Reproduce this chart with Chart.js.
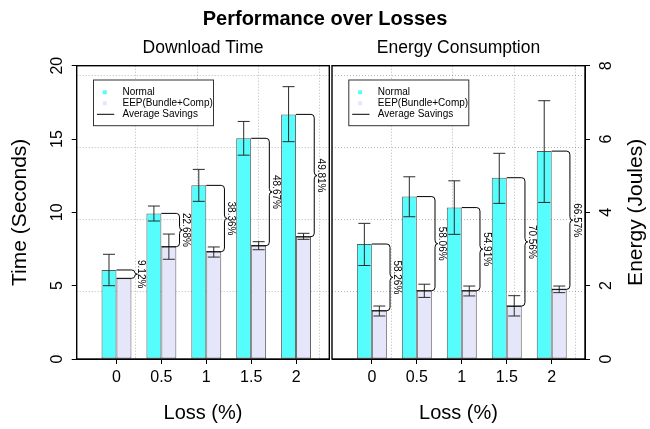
<!DOCTYPE html>
<html><head><meta charset="utf-8">
<script src="https://cdn.jsdelivr.net/npm/chart.js@4/dist/chart.umd.min.js"></script>
<style>
html,body{margin:0;padding:0;background:#fff;}
#wrap{position:relative;width:650px;height:429px;overflow:hidden;background:#fff;}
#title{position:absolute;left:0;top:7px;width:650px;text-align:center;line-height:20px;font:bold 20px 'Liberation Sans',Arial,sans-serif;color:#000;}
canvas{position:absolute;top:0;}
</style></head><body>
<div id="wrap">
<canvas id="c1" width="406" height="429" style="left:0px;width:406px;height:429px"></canvas>
<canvas id="c2" width="383" height="429" style="left:267px;width:383px;height:429px"></canvas>
<div id="title">Performance over Losses</div>
</div>
<script>
// ---- data ----
const LOSS = [0, 0.5, 1, 1.5, 2];
const LOSS_TICKS = [0, 0.5, 1, 1.5, 2];
const SERIES = ['Normal', 'EEP(Bundle+Comp)'];
const SAVINGS_LABEL = 'Average Savings';

const TIME_NORMAL    = [6.07, 9.93, 11.84, 15.05, 16.68];
const TIME_NORMAL_LO = [5.0, 9.41, 10.75, 13.9, 14.82];
const TIME_NORMAL_HI = [7.14, 10.43, 12.93, 16.2, 18.57];
const TIME_EEP       = [5.5, 7.66, 7.32, 7.73, 8.34];
const TIME_EEP_LO    = [null, 6.8, 6.95, 7.45, 8.16];
const TIME_EEP_HI    = [null, 8.52, 7.64, 8.0, 8.57];
const TIME_SAVINGS   = ['9.12', '22.68', '38.36', '48.67', '49.81'];
const TIME_TICKS     = [0, 5, 10, 15, 20];
const TIME_GRID      = [4.59, 9.5, 14.41, 19.32];

const ENERGY_NORMAL    = [3.136, 4.43, 4.13, 4.945, 5.67];
const ENERGY_NORMAL_LO = [2.55, 3.88, 3.40, 4.245, 4.27];
const ENERGY_NORMAL_HI = [3.70, 4.97, 4.86, 5.61, 7.045];
const ENERGY_EEP       = [1.318, 1.863, 1.863, 1.445, 1.9];
const ENERGY_EEP_LO    = [1.173, 1.68, 1.72, 1.173, 1.81];
const ENERGY_EEP_HI    = [1.445, 2.04, 1.99, 1.727, 1.99];
const ENERGY_SAVINGS   = ['58.26', '58.06', '54.91', '70.56', '66.57'];
const ENERGY_TICKS     = [0, 2, 4, 6, 8];
const ENERGY_GRID      = [1.836, 3.8, 5.764, 7.728];

const GRID_X = [0.214, 0.898, 1.581, 2.264];
const X_MIN = -0.443, X_MAX = 2.37;

// ---- style ----
const FONT = "'Liberation Sans', Arial, Helvetica, sans-serif";
const CYAN = '#55fdfd', LAV = '#e6e6fa', EDGE = '#5a5a5a', GRIDC = 'rgba(0,0,0,0.28)';
Chart.defaults.font.family = FONT;
Chart.defaults.color = '#000';

function drawBrace(ctx, x, y1, y2) {
  const h = y2 - y1; const q = Math.max(0.5, Math.min(3.5, h / 4));
  const ym = (y1 + y2) / 2, xm = x + 3.2, xt = x + 6;
  ctx.beginPath();
  ctx.moveTo(x, y1);
  ctx.quadraticCurveTo(xm, y1, xm, y1 + q);
  ctx.lineTo(xm, ym - q);
  ctx.quadraticCurveTo(xm, ym, xt, ym);
  ctx.quadraticCurveTo(xm, ym, xm, ym + q);
  ctx.lineTo(xm, y2 - q);
  ctx.quadraticCurveTo(xm, y2, x, y2);
  ctx.stroke();
}

function makeDecor(d) {
  return {
    id: 'decor_' + d.id,
    afterDatasetsDraw(chart) {
      const ctx = chart.ctx, ys = chart.scales.y, ca = chart.chartArea;
      const m0 = chart.getDatasetMeta(0), m1 = chart.getDatasetMeta(1);
      ctx.save();
      // error bars
      [[m0, d.nlo, d.nhi], [m1, d.elo, d.ehi]].forEach(([m, lo, hi]) => {
        m.data.forEach((el, i) => {
          if (lo[i] == null) return;
          const x = el.x, yl = ys.getPixelForValue(lo[i]), yh = ys.getPixelForValue(hi[i]);
          ctx.strokeStyle = '#2a2a2a'; ctx.lineWidth = 1;
          ctx.beginPath();
          ctx.moveTo(x, yl); ctx.lineTo(x, yh);
          ctx.moveTo(x - 6, yl); ctx.lineTo(x + 6, yl);
          ctx.moveTo(x - 6, yh); ctx.lineTo(x + 6, yh);
          ctx.stroke();
        });
      });
      // braces + savings labels
      m1.data.forEach((el, i) => {
        const n = m0.data[i];
        const y1 = n.y, y2 = el.y;
        const xl = el.x - el.width / 2, x0 = el.x + el.width / 2;
        ctx.strokeStyle = '#000'; ctx.lineWidth = 1;
        ctx.beginPath();
        ctx.moveTo(xl, y1); ctx.lineTo(x0, y1);
        ctx.moveTo(xl, y2); ctx.lineTo(x0, y2);
        ctx.stroke();
        drawBrace(ctx, x0, y1, y2);
        ctx.save();
        ctx.translate(x0 + 9.8, (y1 + y2) / 2);
        ctx.rotate(Math.PI / 2);
        ctx.fillStyle = '#000';
        ctx.font = '10px ' + FONT;
        ctx.textAlign = 'center'; ctx.textBaseline = 'middle';
        ctx.fillText(d.savings[i] + '%', 0, 0);
        ctx.restore();
      });
      // frame
      ctx.strokeStyle = '#000'; ctx.lineWidth = 1.4;
      ctx.strokeRect(ca.left, ca.top, ca.right - ca.left, ca.bottom - ca.top);
      // legend
      const bx = ca.left + 16.8, by = ca.top + 14.3, bw = 120, bh = 45.7;
      ctx.fillStyle = '#fff'; ctx.fillRect(bx, by, bw, bh);
      ctx.strokeStyle = '#333'; ctx.lineWidth = 1; ctx.strokeRect(bx, by, bw, bh);
      ctx.font = '10px ' + FONT; ctx.textAlign = 'left'; ctx.textBaseline = 'middle';
      const labels = [SERIES[0], SERIES[1], SAVINGS_LABEL];
      labels.forEach((lab, k) => {
        const ry = by + 12.3 + k * 11;
        if (k < 2) {
          ctx.fillStyle = k === 0 ? CYAN : LAV;
          ctx.fillRect(bx + 9.3, ry - 2, 4, 4);
        } else {
          ctx.strokeStyle = '#000';
          ctx.beginPath(); ctx.moveTo(bx + 3.4, ry); ctx.lineTo(bx + 20.7, ry); ctx.stroke();
        }
        ctx.fillStyle = '#000';
        ctx.fillText(lab, bx + 29, ry);
      });
      // right axis title (reads bottom-to-top)
      if (d.rightTitle) {
        ctx.save();
        ctx.translate(d.rightTitleX, (ca.top + ca.bottom) / 2);
        ctx.rotate(-Math.PI / 2);
        ctx.font = '21px ' + FONT; ctx.fillStyle = '#000';
        ctx.textAlign = 'center'; ctx.textBaseline = 'middle';
        ctx.fillText(d.rightTitle, 0, 0);
        ctx.restore();
      }
      ctx.restore();
    }
  };
}

function buildChart(d) {
  const yTitle = d.leftTitle ? {display: true, text: d.leftTitle, font: {size: 21}, color: '#000', padding: {top: 7.4, bottom: 0}} : {display: false};
  return new Chart(document.getElementById(d.id), {
    type: 'bar',
    data: {
      datasets: [
        {label: SERIES[0], data: LOSS.map((x, i) => ({x, y: d.normal[i]})), backgroundColor: CYAN, borderColor: EDGE, borderWidth: 1, borderSkipped: false},
        {label: SERIES[1], data: LOSS.map((x, i) => ({x, y: d.eep[i]})), backgroundColor: LAV, borderColor: EDGE, borderWidth: 1, borderSkipped: false}
      ]
    },
    options: {
      responsive: false, animation: false, devicePixelRatio: 1, events: [],
      layout: {padding: 0},
      datasets: {bar: {categoryPercentage: 2 / 3, barPercentage: 1, grouped: true}},
      plugins: {
        legend: {display: false}, tooltip: {enabled: false},
        title: {display: true, text: d.subtitle, color: '#000', font: {size: 17.5, weight: 'normal'}, padding: {top: 37.5, bottom: 7.2}}
      },
      scales: {
        x: {
          type: 'linear', position: 'bottom', min: X_MIN, max: X_MAX, offset: false, bounds: 'data',
          afterBuildTicks: s => { s.ticks = LOSS_TICKS.map(v => ({value: v})); },
          ticks: {padding: 4, font: {size: 16}, color: '#000', callback: v => String(v), autoSkip: false, maxRotation: 0},
          grid: {display: true, offset: false, drawOnChartArea: false, drawTicks: true, tickLength: 5, tickColor: '#000'},
          border: {display: true, color: '#000', width: 1},
          title: {display: true, text: 'Loss (%)', font: {size: 20}, color: '#000', padding: {top: 0, bottom: 4}},
          afterFit: s => { s.height = 70; }
        },
        gx: {
          type: 'linear', axis: 'x', position: 'bottom', min: X_MIN, max: X_MAX, offset: false,
          afterBuildTicks: s => { s.ticks = GRID_X.map(v => ({value: v})); },
          ticks: {display: false},
          grid: {display: true, offset: false, drawTicks: false, color: GRIDC, lineWidth: 1},
          border: {display: false, dash: [1, 2]},
          afterFit: s => { s.height = 0; }
        },
        y: {
          type: 'linear', position: d.yPos, min: 0, max: d.yMax,
          afterBuildTicks: s => { s.ticks = d.yTicks.map(v => ({value: v})); },
          ticks: {padding: d.tickPad, font: {size: 16}, color: '#000', minRotation: 90, maxRotation: 90, crossAlign: 'center', autoSkip: false},
          grid: {display: true, drawOnChartArea: false, drawTicks: true, tickLength: 5, tickColor: '#000'},
          border: {display: true, color: '#000', width: 1},
          title: yTitle,
          afterFit: s => { s.width = d.side; }
        },
        gy: {
          type: 'linear', axis: 'y', position: d.yPos === 'left' ? 'right' : 'left', min: 0, max: d.yMax,
          afterBuildTicks: s => { s.ticks = d.grid.map(v => ({value: v})); },
          ticks: {display: false},
          grid: {display: true, drawTicks: false, color: GRIDC, lineWidth: 1},
          border: {display: false, dash: [1, 2]},
          afterFit: s => { s.width = d.side; }
        }
      }
    },
    plugins: [makeDecor(d)]
  });
}

buildChart({
  id: 'c1', subtitle: 'Download Time', leftTitle: 'Time (Seconds)', yPos: 'left', yMax: 20, side: 76.7, tickPad: 4.8,
  yTicks: TIME_TICKS, grid: TIME_GRID,
  normal: TIME_NORMAL, nlo: TIME_NORMAL_LO, nhi: TIME_NORMAL_HI,
  eep: TIME_EEP, elo: TIME_EEP_LO, ehi: TIME_EEP_HI, savings: TIME_SAVINGS
});
buildChart({
  id: 'c2', subtitle: 'Energy Consumption', rightTitle: 'Energy (Joules)', rightTitleX: 369, yPos: 'right', yMax: 8, side: 65, tickPad: 12.5,
  yTicks: ENERGY_TICKS, grid: ENERGY_GRID,
  normal: ENERGY_NORMAL, nlo: ENERGY_NORMAL_LO, nhi: ENERGY_NORMAL_HI,
  eep: ENERGY_EEP, elo: ENERGY_EEP_LO, ehi: ENERGY_EEP_HI, savings: ENERGY_SAVINGS
});
</script>
</body></html>
